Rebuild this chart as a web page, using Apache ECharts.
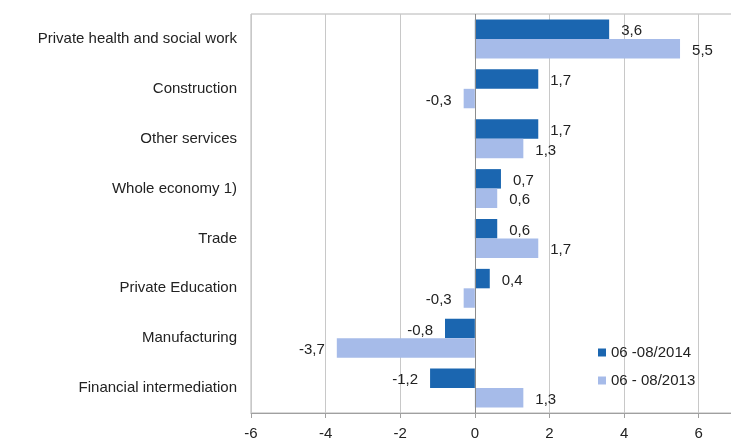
<!DOCTYPE html>
<html>
<head>
<meta charset="utf-8">
<script src="https://cdn.jsdelivr.net/npm/echarts@6/dist/echarts.min.js"></script>
<style>
  html, body { margin: 0; padding: 0; background: #fff; }
  #chart { width: 731px; height: 439px; }
</style>
</head>
<body>
<div id="chart"></div>
<script>
// categories, top to bottom
var categories = [
  "Private health and social work",
  "Construction",
  "Other services",
  "Whole economy 1)",
  "Trade",
  "Private Education",
  "Manufacturing",
  "Financial intermediation"
];
var seriesNames = ["06 -08/2014", "06 - 08/2013"];
var values2014 = [3.6, 1.7, 1.7, 0.7, 0.6, 0.4, -0.8, -1.2];
var values2013 = [5.5, -0.3, 1.3, 0.6, 1.7, -0.3, -3.7, 1.3];
var xTicks = [-6, -4, -2, 0, 2, 4, 6];

var FONT = "Liberation Sans, Arial, sans-serif";

// label goes to the side where the bar ends
function toData(arr) {
  return arr.map(function (v) {
    return {
      value: v,
      label: { position: v < 0 ? "left" : "right" }
    };
  });
}

function fmt(p) {
  return p.value.toFixed(1).replace(".", ",");
}

var chart = echarts.init(document.getElementById("chart"));
chart.setOption({
  animation: false,
  backgroundColor: "#fff",
  textStyle: { fontFamily: FONT },
  legend: {
    orient: "vertical",
    left: 593,
    top: 340,
    itemWidth: 8,
    itemHeight: 8,
    itemGap: 13,
    icon: "rect",
    textStyle: { fontSize: 15, color: "#222", fontFamily: FONT },
    data: seriesNames
  },
  grid: {
    left: 251,
    top: 14,
    width: 485,
    height: 399,
    outerBoundsMode: "none",
    show: true,
    borderColor: "#b4b4b4",
    borderWidth: 1
  },
  xAxis: {
    type: "value",
    min: -6,
    max: 7,
    interval: 2,
    axisLine: { show: true, lineStyle: { color: "#a0a0a0" } },
    axisTick: { show: true, length: 5, lineStyle: { color: "#a0a0a0" } },
    axisLabel: {
      fontSize: 15,
      color: "#222",
      margin: 13,
      fontFamily: FONT,
      formatter: function (v) {
        return xTicks.indexOf(v) >= 0 ? String(v) : "";
      }
    },
    splitLine: { show: true, lineStyle: { color: "#c8c8c8" } }
  },
  yAxis: {
    type: "category",
    inverse: true,
    data: categories,
    axisLine: { show: false, onZero: false },
    axisTick: { show: false },
    axisLabel: { fontSize: 15, color: "#222", margin: 14, padding: [5, 0, 0, 0], fontFamily: FONT },
    splitLine: { show: false }
  },
  series: [
    {
      name: seriesNames[0],
      type: "bar",
      barGap: "0%",
      barCategoryGap: "22%",
      itemStyle: { color: "#1b66b0" },
      label: { show: true, distance: 12, offset: [0, 2], fontSize: 15, color: "#222", fontFamily: FONT, formatter: fmt },
      data: toData(values2014),
      markLine: {
        silent: true,
        symbol: "none",
        label: { show: false },
        lineStyle: { color: "#8c8c8c", type: "solid", width: 1 },
        data: [{ xAxis: 0 }]
      }
    },
    {
      name: seriesNames[1],
      type: "bar",
      barGap: "0%",
      barCategoryGap: "22%",
      itemStyle: { color: "#a6bbe9" },
      label: { show: true, distance: 12, offset: [0, 2], fontSize: 15, color: "#222", fontFamily: FONT, formatter: fmt },
      data: toData(values2013)
    }
  ]
});
</script>
</body>
</html>
